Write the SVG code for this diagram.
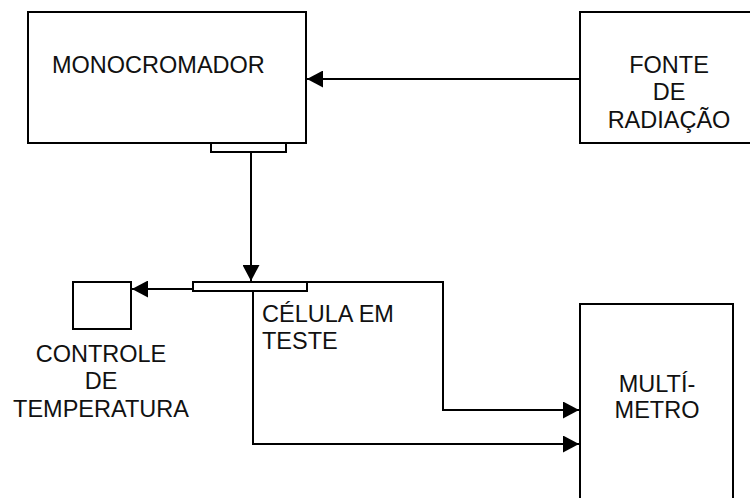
<svg xmlns="http://www.w3.org/2000/svg" width="750" height="498" viewBox="0 0 750 498">
<style>
.box{fill:#fff;stroke:#000;stroke-width:2}
.ln{fill:none;stroke:#000;stroke-width:2}
text{font-family:"Liberation Sans",Arial,sans-serif;font-size:23.5px;fill:#111}
.c{text-anchor:middle}
</style>
<defs>
<marker id="ah" markerWidth="16" markerHeight="17" refX="16" refY="8.5" orient="auto" markerUnits="userSpaceOnUse">
<path d="M0,0 L16,8.5 L0,17 Z" fill="#000"/>
</marker>
</defs>
<rect width="750" height="498" fill="#fff"/>
<g id="connectors">
<line class="ln" x1="580" y1="79" x2="307" y2="79" marker-end="url(#ah)"/>
<line class="ln" x1="251" y1="153" x2="251" y2="281" marker-end="url(#ah)"/>
<line class="ln" x1="193" y1="289" x2="132" y2="289" marker-end="url(#ah)"/>
<polyline class="ln" points="307,282 443,282 443,410 579,410" marker-end="url(#ah)"/>
<polyline class="ln" points="253,291 253,444 579,444" marker-end="url(#ah)"/>
</g>
<g id="monocromador">
<rect class="box" x="28" y="12" width="278" height="131"/>
<rect class="box" x="211" y="143" width="75" height="9"/>
<text x="52" y="73">MONOCROMADOR</text>
</g>
<g id="fonte">
<rect class="box" x="580" y="12" width="180" height="131"/>
<text class="c" x="669" y="73">FONTE</text>
<text class="c" x="669" y="100">DE</text>
<text class="c" x="669" y="128">RADIAÇÃO</text>
</g>
<g id="celula">
<rect class="box" x="193" y="282" width="114" height="9"/>
<text x="262" y="322">CÉLULA EM</text>
<text x="262" y="349">TESTE</text>
</g>
<g id="controle">
<rect class="box" x="73" y="282" width="58" height="47"/>
<text class="c" x="101" y="362">CONTROLE</text>
<text class="c" x="101" y="389">DE</text>
<text class="c" x="101" y="417">TEMPERATURA</text>
</g>
<g id="multimetro">
<rect class="box" x="580" y="304" width="153" height="210"/>
<text class="c" x="657" y="392">MULTÍ-</text>
<text class="c" x="657" y="418">METRO</text>
</g>
</svg>
